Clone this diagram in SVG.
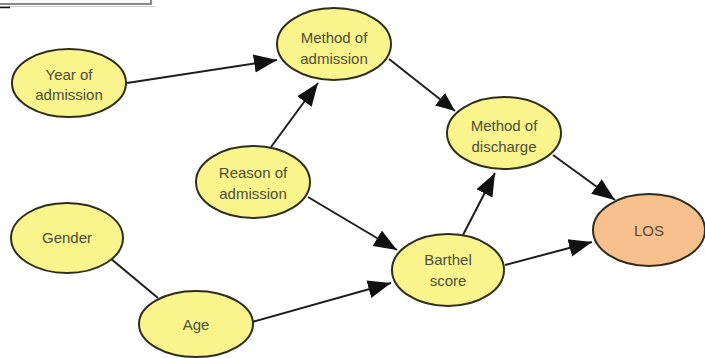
<svg xmlns="http://www.w3.org/2000/svg" width="705" height="358" viewBox="0 0 705 358">
<defs>
<marker id="ah" markerUnits="userSpaceOnUse" markerWidth="24" markerHeight="20" viewBox="0 0 24 20" refX="23" refY="10" orient="auto">
<path d="M0,1 L23,10 L0,19 Z" fill="#111"/>
</marker>
<marker id="ahs" markerUnits="userSpaceOnUse" markerWidth="20" markerHeight="16" viewBox="0 0 20 16" refX="19" refY="8" orient="auto">
<path d="M0,0 L19,8 L0,16 Z" fill="#111"/>
</marker>
</defs>
<style>
.n ellipse{fill:#f9f48c;stroke:#2e2e1e;stroke-width:2}
.n.los ellipse{fill:#f8c08c}
.n text{font-family:"Liberation Sans",Arial,sans-serif;font-size:15px;fill:#4e4e3a;text-anchor:middle}
.e line{stroke:#1e1e1e;stroke-width:2;fill:none}
</style>
<rect x="0" y="0" width="705" height="358" fill="#fff"/>
<g id="frame">
<path d="M0,4 H151 V-2" fill="none" stroke="#888" stroke-width="2"/>
<line x1="0" y1="6.5" x2="155" y2="6.5" stroke="#ccc" stroke-width="1"/>
<line x1="0" y1="7.5" x2="10" y2="7.5" stroke="#111" stroke-width="1.5"/>
</g>
<g id="connectors" class="e">
<line x1="127" y1="83" x2="277" y2="60" marker-end="url(#ah)"/>
<line x1="271" y1="147" x2="318" y2="83" marker-end="url(#ah)"/>
<line x1="389" y1="59" x2="455" y2="111" marker-end="url(#ahs)"/>
<line x1="553" y1="155" x2="615" y2="200" marker-end="url(#ah)"/>
<line x1="308" y1="197" x2="397" y2="250" marker-end="url(#ah)"/>
<line x1="463" y1="235" x2="495" y2="173" marker-end="url(#ah)"/>
<line x1="505" y1="265" x2="592" y2="242" marker-end="url(#ah)"/>
<line x1="252" y1="322" x2="391" y2="283" marker-end="url(#ah)"/>
<line x1="110" y1="258" x2="158" y2="298"/>
</g>
<g id="year" class="n"><ellipse cx="69" cy="83" rx="57" ry="34"/><text x="69" y="80">Year of</text><text x="69" y="100">admission</text></g>
<g id="method_admission" class="n"><ellipse cx="334" cy="44" rx="57" ry="36"/><text x="334" y="43">Method of</text><text x="334" y="64">admission</text></g>
<g id="method_discharge" class="n"><ellipse cx="504" cy="133" rx="57" ry="36"/><text x="504" y="131">Method of</text><text x="504" y="152">discharge</text></g>
<g id="reason" class="n"><ellipse cx="253" cy="182" rx="57" ry="36"/><text x="253" y="178">Reason of</text><text x="253" y="199">admission</text></g>
<g id="los" class="n los"><ellipse cx="649" cy="230" rx="56" ry="36"/><text x="649" y="236">LOS</text></g>
<g id="barthel" class="n"><ellipse cx="448" cy="270" rx="56" ry="36"/><text x="448" y="265">Barthel</text><text x="448" y="286">score</text></g>
<g id="gender" class="n"><ellipse cx="67" cy="238" rx="56" ry="35"/><text x="67" y="243">Gender</text></g>
<g id="age" class="n"><ellipse cx="196" cy="324" rx="57" ry="33"/><text x="196" y="330">Age</text></g>
</svg>
